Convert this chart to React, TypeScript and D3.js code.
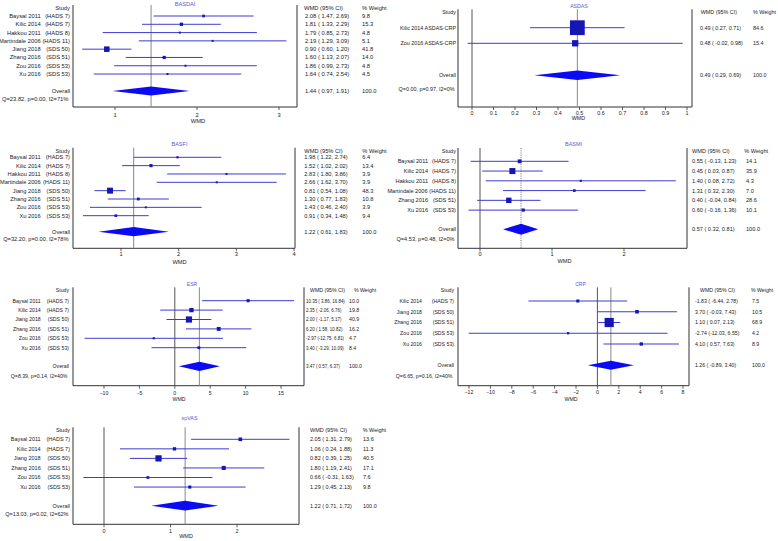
import React from "react";
import * as d3 from "d3";

const FONT = "'Liberation Sans', Arial, Helvetica, sans-serif";

// ---------- BASDAI ----------
const basdaiStudies = ["Baysal 2011", "Kilic 2014", "Hakkou 2011", "Martindale 2006", "Jiang 2018", "Zhang 2016", "Zou 2016", "Xu 2016"];
const basdaiGroups = ["(HADS 7)", "(HADS 7)", "(HADS 8)", "(HADS 11)", "(SDS 50)", "(SDS 51)", "(SDS 53)", "(SDS 53)"];
const basdaiWmd = [2.08, 1.81, 1.79, 2.19, 0.9, 1.6, 1.86, 1.64];
const basdaiLower = [1.47, 1.33, 0.85, 1.29, 0.6, 1.13, 0.99, 0.74];
const basdaiUpper = [2.69, 2.29, 2.73, 3.09, 1.2, 2.07, 2.73, 2.54];
const basdaiWeight = [9.8, 15.3, 4.8, 5.1, 41.8, 14.0, 4.8, 4.5];
const basdaiOverall = [1.44, 0.97, 1.91];
const basdaiHet = "Q=23.82, p=0.00, I2=71%";
const basdaiTicks = [1, 2, 3];

// ---------- ASDAS ----------
const asdasStudies = ["Kilic 2014 ASDAS-CRP", "Zou 2016 ASDAS-CRP"];
const asdasGroups = ["", ""];
const asdasWmd = [0.49, 0.48];
const asdasLower = [0.27, -0.02];
const asdasUpper = [0.71, 0.98];
const asdasWeight = [84.6, 15.4];
const asdasOverall = [0.49, 0.29, 0.69];
const asdasHet = "Q=0.00, p=0.97, I2=0%";
const asdasTicks = [0, 0.1, 0.2, 0.3, 0.4, 0.5, 0.6, 0.7, 0.8, 0.9, 1];

// ---------- BASFI ----------
const basfiStudies = ["Baysal 2011", "Kilic 2014", "Hakkou 2011", "Martindale 2006", "Jiang 2018", "Zhang 2016", "Zou 2016", "Xu 2016"];
const basfiGroups = ["(HADS 7)", "(HADS 7)", "(HADS 8)", "(HADS 11)", "(SDS 50)", "(SDS 51)", "(SDS 53)", "(SDS 53)"];
const basfiWmd = [1.98, 1.52, 2.83, 2.66, 0.81, 1.3, 1.43, 0.91];
const basfiLower = [1.22, 1.02, 1.8, 1.62, 0.54, 0.77, 0.46, 0.34];
const basfiUpper = [2.74, 2.02, 3.86, 3.7, 1.08, 1.83, 2.4, 1.48];
const basfiWeight = [6.4, 13.4, 3.9, 3.9, 48.3, 10.8, 3.9, 9.4];
const basfiOverall = [1.22, 0.61, 1.83];
const basfiHet = "Q=32.20, p=0.00, I2=78%";
const basfiTicks = [1, 2, 3, 4];

// ---------- BASMI ----------
const basmiStudies = ["Baysal 2011", "Kilic 2014", "Hakkou 2011", "Martindale 2006", "Zhang 2016", "Xu 2016"];
const basmiGroups = ["(HADS 7)", "(HADS 7)", "(HADS 8)", "(HADS 11)", "(SDS 51)", "(SDS 53)"];
const basmiWmd = [0.55, 0.45, 1.4, 1.31, 0.4, 0.6];
const basmiLower = [-0.13, 0.03, 0.08, 0.32, -0.04, -0.16];
const basmiUpper = [1.23, 0.87, 2.72, 2.3, 0.84, 1.36];
const basmiWeight = [14.1, 35.9, 4.3, 7.0, 28.6, 10.1];
const basmiOverall = [0.57, 0.32, 0.81];
const basmiHet = "Q=4.53, p=0.48, I2=0%";
const basmiTicks = [0, 1, 2];

// ---------- ESR ----------
const esrStudies = ["Baysal 2011", "Kilic 2014", "Jiang 2018", "Zhang 2016", "Zou 2016", "Xu 2016"];
const esrGroups = ["(HADS 7)", "(HADS 7)", "(SDS 50)", "(SDS 51)", "(SDS 53)", "(SDS 53)"];
const esrWmd = [10.35, 2.35, 2.0, 6.2, -2.97, 3.4];
const esrLower = [3.86, -2.06, -1.17, 1.58, -12.75, -3.29];
const esrUpper = [16.84, 6.76, 5.17, 10.82, 6.81, 10.09];
const esrWeight = [10.0, 19.8, 40.9, 16.2, 4.7, 8.4];
const esrOverall = [3.47, 0.57, 6.37];
const esrHet = "Q=8.39, p=0.14, I2=40%";
const esrTicks = [-10, -5, 0, 5, 10, 15];

// ---------- CRP ----------
const crpStudies = ["Kilic 2014", "Jiang 2018", "Zhang 2016", "Zou 2016", "Xu 2016"];
const crpGroups = ["(HADS 7)", "(SDS 50)", "(SDS 51)", "(SDS 53)", "(SDS 53)"];
const crpWmd = [-1.83, 3.7, 1.1, -2.74, 4.1];
const crpLower = [-6.44, -0.03, 0.07, -12.03, 0.57];
const crpUpper = [2.78, 7.43, 2.13, 6.55, 7.63];
const crpWeight = [7.5, 10.5, 68.9, 4.2, 8.9];
const crpOverall = [1.26, -0.89, 3.4];
const crpHet = "Q=6.65, p=0.16, I2=40%";
const crpTicks = [-12, -10, -8, -6, -4, -2, 0, 2, 4, 6, 8];

// ---------- spVAS ----------
const spvasStudies = ["Baysal 2011", "Kilic 2014", "Jiang 2018", "Zhang 2016", "Zou 2016", "Xu 2016"];
const spvasGroups = ["(HADS 7)", "(HADS 7)", "(SDS 50)", "(SDS 51)", "(SDS 53)", "(SDS 53)"];
const spvasWmd = [2.05, 1.06, 0.82, 1.8, 0.66, 1.29];
const spvasLower = [1.31, 0.24, 0.39, 1.19, -0.31, 0.45];
const spvasUpper = [2.79, 1.88, 1.25, 2.41, 1.63, 2.13];
const spvasWeight = [13.6, 11.3, 40.5, 17.1, 7.6, 9.8];
const spvasOverall = [1.22, 0.71, 1.72];
const spvasHet = "Q=13.03, p=0.02, I2=62%";
const spvasTicks = [0, 1, 2];

type Layout = {
  axL: number; axR: number; anchorV: [number, number]; anchorPx: [number, number];
  yHead: number; yFirst: number; step: number; yOverall: number; yQ: number;
  yAxis: number; yTick: number; yWmd: number; yTitle: number; titleX: number; wmdX: number;
  groupRight: number; nameRight: number; xCIHead: number; xCI: number; xWHead: number; xW: number;
  dotted?: boolean; diamondH: number; fs: number;
};

type PanelCfg = {
  title: string; studies: string[]; groups: string[]; wmd: number[]; lower: number[]; upper: number[];
  weight: number[]; overall: number[]; het: string; ticks: number[]; layout: Layout;
};

const panels: PanelCfg[] = [
  {
    title: "BASDAI", studies: basdaiStudies, groups: basdaiGroups, wmd: basdaiWmd, lower: basdaiLower, upper: basdaiUpper,
    weight: basdaiWeight, overall: basdaiOverall, het: basdaiHet, ticks: basdaiTicks,
    layout: { axL: 73, axR: 297, anchorV: [1, 3], anchorPx: [115, 279], yHead: 8, yFirst: 16, step: 8.29, yOverall: 91, yQ: 99,
      yAxis: 107, yTick: 115, yWmd: 121, yTitle: 4, titleX: 185, wmdX: 198, groupRight: 70, nameRight: 40.7,
      xCIHead: 304, xCI: 305, xWHead: 362, xW: 362, diamondH: 9, fs: 5.8 },
  },
  {
    title: "ASDAS", studies: asdasStudies, groups: asdasGroups, wmd: asdasWmd, lower: asdasLower, upper: asdasUpper,
    weight: asdasWeight, overall: asdasOverall, het: asdasHet, ticks: asdasTicks,
    layout: { axL: 458, axR: 692, anchorV: [0, 1], anchorPx: [472, 687], yHead: 12.3, yFirst: 27.7, step: 15.6, yOverall: 75.3, yQ: 89.3,
      yAxis: 107, yTick: 112.7, yWmd: 118.3, yTitle: 5.7, titleX: 579, wmdX: 578.5, groupRight: 456, nameRight: 456,
      xCIHead: 700.7, xCI: 700, xWHead: 753, xW: 753, diamondH: 9.5, fs: 5.4 },
  },
  {
    title: "BASFI", studies: basfiStudies, groups: basfiGroups, wmd: basfiWmd, lower: basfiLower, upper: basfiUpper,
    weight: basfiWeight, overall: basfiOverall, het: basfiHet, ticks: basfiTicks,
    layout: { axL: 73, axR: 295, anchorV: [1, 4], anchorPx: [121, 294], yHead: 150.7, yFirst: 157.3, step: 8.34, yOverall: 231.7, yQ: 239.3,
      yAxis: 248.3, yTick: 254.3, yWmd: 261.7, yTitle: 144, titleX: 179.5, wmdX: 179.5, groupRight: 70, nameRight: 40.7,
      xCIHead: 304.3, xCI: 304.3, xWHead: 362.3, xW: 362.3, diamondH: 9.3, fs: 5.7 },
  },
  {
    title: "BASMI", studies: basmiStudies, groups: basmiGroups, wmd: basmiWmd, lower: basmiLower, upper: basmiUpper,
    weight: basmiWeight, overall: basmiOverall, het: basmiHet, ticks: basmiTicks,
    layout: { axL: 458, axR: 687, anchorV: [0, 2], anchorPx: [480, 624], yHead: 151, yFirst: 161.3, step: 9.76, yOverall: 229.3, yQ: 238.7,
      yAxis: 248.3, yTick: 254.3, yWmd: 260.7, yTitle: 144, titleX: 573.5, wmdX: 564.5, groupRight: 456, nameRight: 428,
      xCIHead: 692, xCI: 692, xWHead: 744.3, xW: 746, dotted: true, diamondH: 11, fs: 5.6 },
  },
  {
    title: "ESR", studies: esrStudies, groups: esrGroups, wmd: esrWmd, lower: esrLower, upper: esrUpper,
    weight: esrWeight, overall: esrOverall, het: esrHet, ticks: esrTicks,
    layout: { axL: 73, axR: 304, anchorV: [-10, 15], anchorPx: [104, 281], yHead: 290.3, yFirst: 300.7, step: 9.4, yOverall: 366.3, yQ: 375.7,
      yAxis: 385.7, yTick: 392.7, yWmd: 399, yTitle: 284, titleX: 192, wmdX: 179, groupRight: 69, nameRight: 40.7,
      xCIHead: 310, xCI: 306, xWHead: 354, xW: 349, diamondH: 9.3, fs: 5.2 },
  },
  {
    title: "CRP", studies: crpStudies, groups: crpGroups, wmd: crpWmd, lower: crpLower, upper: crpUpper,
    weight: crpWeight, overall: crpOverall, het: crpHet, ticks: crpTicks,
    layout: { axL: 458, axR: 689, anchorV: [-12, 8], anchorPx: [469, 683], yHead: 290.3, yFirst: 301, step: 10.75, yOverall: 365.3, yQ: 375.7,
      yAxis: 385.7, yTick: 392.3, yWmd: 398.7, yTitle: 284, titleX: 580.5, wmdX: 571, groupRight: 454, nameRight: 422,
      xCIHead: 700, xCI: 695, xWHead: 751, xW: 752, diamondH: 9, fs: 5.2 },
  },
  {
    title: "spVAS", studies: spvasStudies, groups: spvasGroups, wmd: spvasWmd, lower: spvasLower, upper: spvasUpper,
    weight: spvasWeight, overall: spvasOverall, het: spvasHet, ticks: spvasTicks,
    layout: { axL: 73, axR: 299, anchorV: [0, 2], anchorPx: [104, 237], yHead: 430.3, yFirst: 439.3, step: 9.55, yOverall: 505.7, yQ: 514.3,
      yAxis: 524.3, yTick: 531, yWmd: 536.3, yTitle: 418.3, titleX: 189.5, wmdX: 186, groupRight: 70, nameRight: 40.7,
      xCIHead: 310, xCI: 310, xWHead: 362.7, xW: 363, diamondH: 9.7, fs: 5.5 },
  },
];

let measureCtx: CanvasRenderingContext2D | null = null;
function textWidth(s: string, size: number): number {
  if (!measureCtx) {
    const c = document.createElement("canvas");
    measureCtx = c.getContext("2d");
  }
  if (!measureCtx) return s.length * size * 0.55;
  measureCtx.font = `${size}px 'Liberation Sans', Arial, sans-serif`;
  return measureCtx.measureText(s).width;
}

function fmtCI(e: number, lo: number, hi: number): string {
  const l = lo.toFixed(2);
  const lp = l.length < 6 ? " " + l : l;
  return `${e.toFixed(2)} (${lp}, ${hi.toFixed(2)})`;
}

function fmtTick(t: number): string {
  return d3.format("~g")(Math.round(t * 100) / 100);
}

const LINE = "#3c3cd2";
const BOX = "#1616b4";
const DIAMOND = "#0a0af5";
const TITLE = "#5a5ad8";
const TXT = "#222";

function Panel({ p }: { p: PanelCfg }) {
  const L = p.layout;
  const FS = L.fs;
  const x = d3.scaleLinear().domain(L.anchorV).range(L.anchorPx);
  const dom = [x.invert(L.axL), x.invert(L.axR)];
  const yTop = L.yHead - 3;
  const rowY = (i: number) => L.yFirst + i * L.step;
  const [oe, olo, ohi] = p.overall;
  const diamond = [
    [x(olo), L.yOverall], [x(oe), L.yOverall - L.diamondH / 2],
    [x(ohi), L.yOverall], [x(oe), L.yOverall + L.diamondH / 2],
  ].map((q) => q.join(",")).join(" ");

  // values column: keep glyph height, compress horizontally (transform) to fit before the weight column
  const ciStrings = p.studies.map((_, i) => fmtCI(p.wmd[i], p.lower[i], p.upper[i])).concat([fmtCI(oe, olo, ohi)]);
  const maxW1 = d3.max(ciStrings, (s) => textWidth(s, 1)) || 1;
  const squeeze = Math.min(1, (L.xW - L.xCI - 4) / (maxW1 * FS));
  const ciText = (s: string, y: number) => (
    <text transform={`translate(${L.xCI},${y}) scale(${squeeze},1)`} dy="0.35em">{s}</text>
  );
  const headW = textWidth("WMD (95% CI)", FS);
  const headSq = Math.min(1, (L.xWHead - L.xCIHead - 3) / headW);

  return (
    <g fontFamily={FONT} fontSize={FS} fill={TXT}>
      <text x={L.titleX} y={L.yTitle} dy="0.35em" textAnchor="middle" fill={TITLE} fontSize={FS * 0.97}>{p.title}</text>
      <text x={L.groupRight} y={L.yHead} dy="0.35em" textAnchor="end">Study</text>
      <text transform={`translate(${L.xCIHead},${L.yHead}) scale(${headSq},1)`} dy="0.35em">WMD (95% CI)</text>
      <text x={L.xWHead} y={L.yHead} dy="0.35em">% Weight</text>

      {/* frame */}
      <path d={`M${L.axL},${yTop}V${L.yAxis}H${L.axR}V${yTop}`} fill="none" stroke="#333" strokeWidth={1} />
      {p.ticks.map((t) => (
        <g key={t}>
          <line x1={x(t)} x2={x(t)} y1={L.yAxis} y2={L.yAxis + 3} stroke="#333" strokeWidth={0.8} />
          <text x={x(t)} y={L.yTick} dy="0.35em" textAnchor="middle">{fmtTick(t)}</text>
        </g>
      ))}
      <text x={L.wmdX} y={L.yWmd} dy="0.35em" textAnchor="middle">WMD</text>

      {/* reference lines */}
      {dom[0] < 0 && dom[1] > 0 && (
        <line x1={x(0)} x2={x(0)} y1={yTop} y2={L.yAxis} stroke="#555" strokeWidth={1} />
      )}
      <line x1={x(oe)} x2={x(oe)} y1={yTop} y2={L.yAxis} stroke={L.dotted ? "#444" : "#888"}
        strokeWidth={L.dotted ? 0.8 : 1} strokeDasharray={L.dotted ? "1,1.3" : undefined} />

      {/* studies */}
      {p.studies.map((s, i) => {
        const y = rowY(i);
        const g = p.groups[i];
        const side = Math.max(2, 1.03 * L.step * Math.sqrt(p.weight[i] / 100));
        const nameR = g ? Math.min(L.nameRight, L.groupRight - textWidth(g, FS) - 1.8) : L.groupRight;
        return (
          <g key={s + i}>
            <text x={nameR} y={y} dy="0.35em" textAnchor="end">{s}</text>
            {g && <text x={L.groupRight} y={y} dy="0.35em" textAnchor="end">{g}</text>}
            <line x1={x(p.lower[i])} x2={x(p.upper[i])} y1={y} y2={y} stroke={LINE} strokeWidth={1} />
            <rect x={x(p.wmd[i]) - side / 2} y={y - side / 2} width={side} height={side} fill={BOX} />
            {ciText(ciStrings[i], y)}
            <text x={L.xW} y={y} dy="0.35em">{p.weight[i].toFixed(1)}</text>
          </g>
        );
      })}

      {/* overall */}
      <text x={L.groupRight} y={L.yOverall} dy="0.35em" textAnchor="end">Overall</text>
      <polygon points={diamond} fill={DIAMOND} />
      {ciText(ciStrings[ciStrings.length - 1], L.yOverall)}
      <text x={L.xW} y={L.yOverall} dy="0.35em">100.0</text>
      <text x={L.groupRight - 1.5} y={L.yQ} dy="0.35em" textAnchor="end">{p.het}</text>
    </g>
  );
}

export default function App() {
  return (
    <svg width={778} height={541} viewBox="0 0 778 541"
      style={{ position: "absolute", left: 0, top: 0, background: "#fff" }}>
      <rect x={0} y={0} width={778} height={541} fill="#fff" />
      {panels.map((p) => <Panel key={p.title} p={p} />)}
    </svg>
  );
}
